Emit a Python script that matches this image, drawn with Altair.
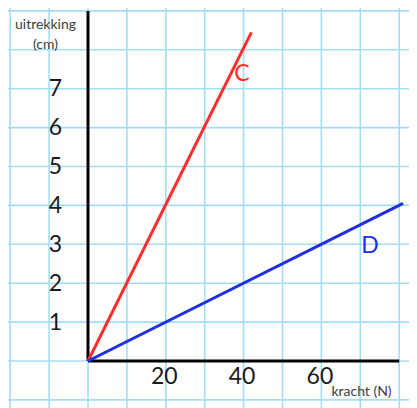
import altair as alt
import pandas as pd

# Data
series = ["C", "C", "D", "D"]
kracht = [0, 42, 0, 81]          # N
uitrekking = [0, 8.45, 0, 4.05]  # cm

line_labels = ["C", "D"]
label_kracht = [39.6, 72.5]
label_uitrekking = [7.38, 2.96]
line_colors = ["#ff2d2d", "#1f2fe6"]

x_tick_values = [20, 40, 60]
y_tick_values = [1, 2, 3, 4, 5, 6, 7]
grid_x = [-20, -10, 0, 10, 20, 30, 40, 50, 60, 70, 80]
grid_y = [-1, 0, 1, 2, 3, 4, 5, 6, 7, 8, 9]

x_axis_end = 80
y_axis_end = 9

W, H = 401, 400
x_dom = [-20.566, 82.52]
y_dom = [-(H - 353) / 38.9, 353 / 38.9]

grid_color = "#a3def5"
font = "Lato"

lines_df = pd.DataFrame({"series": series, "kracht": kracht, "uitrekking": uitrekking})
labels_df = pd.DataFrame({"series": line_labels, "kracht": label_kracht, "uitrekking": label_uitrekking})
gx_df = pd.DataFrame({"g": grid_x})
gy_df = pd.DataFrame({"g": grid_y})
axes_df = pd.DataFrame({"x": [0, 0], "x2": [0, x_axis_end], "y": [0, 0], "y2": [y_axis_end, 0]})

xs = alt.Scale(domain=x_dom, zero=False, nice=False)
ys = alt.Scale(domain=y_dom, zero=False, nice=False)
cs = alt.Scale(domain=line_labels, range=line_colors)

xaxis = alt.Axis(values=x_tick_values, offset=-(H - 353), domain=False, ticks=False,
                 tickSize=0, grid=False, labelFont=font, labelFontSize=23,
                 labelColor="#1a1a1a", labelPadding=4, labelOffset=-2, zindex=1,
                 title="kracht (N)", titleFont=font, titleFontSize=14,
                 titleFontWeight="normal", titleColor="#404040",
                 titleX=353, titleY=30, titleAlign="center", titleBaseline="middle")
yaxis = alt.Axis(values=y_tick_values, offset=-80, domain=False, ticks=False,
                 tickSize=0, grid=False, labelFont=font, labelFontSize=23,
                 labelColor="#1a1a1a", labelPadding=33, labelAlign="center", zindex=1,
                 title=["uitrekking", "(cm)"], titleFont=font, titleFontSize=14,
                 titleFontWeight="normal", titleColor="#404040", titleAngle=0,
                 titleX=-43, titleY=9, titleAlign="center", titleBaseline="top",
                 titleLineHeight=20)

vgrid = alt.Chart(gx_df).mark_rule(color=grid_color, strokeWidth=1.6).encode(
    x=alt.X("g:Q", scale=xs, axis=xaxis)
)
hgrid = alt.Chart(gy_df).mark_rule(color=grid_color, strokeWidth=1.6).encode(
    y=alt.Y("g:Q", scale=ys, axis=yaxis)
)

axis_lines = alt.Chart(axes_df).mark_rule(color="black", strokeWidth=3).encode(
    x=alt.X("x:Q", scale=xs, axis=xaxis),
    x2="x2:Q",
    y=alt.Y("y:Q", scale=ys, axis=yaxis),
    y2="y2:Q",
)

lines = alt.Chart(lines_df).mark_line(strokeWidth=3).encode(
    x=alt.X("kracht:Q", scale=xs, axis=xaxis),
    y=alt.Y("uitrekking:Q", scale=ys, axis=yaxis),
    color=alt.Color("series:N", scale=cs, legend=None),
    detail="series:N",
)

texts = alt.Chart(labels_df).mark_text(font=font, fontSize=23).encode(
    x=alt.X("kracht:Q", scale=xs, axis=xaxis),
    y=alt.Y("uitrekking:Q", scale=ys, axis=yaxis),
    text="series:N",
    color=alt.Color("series:N", scale=cs, legend=None),
)

chart = alt.layer(vgrid, hgrid, axis_lines, lines, texts).properties(
    width=W, height=H, autosize=alt.AutoSizeParams(type="none"), padding=0,
    background="white",
).configure_view(stroke=None)

chart.save("out.html", embed_options={"renderer": "svg", "actions": False})
